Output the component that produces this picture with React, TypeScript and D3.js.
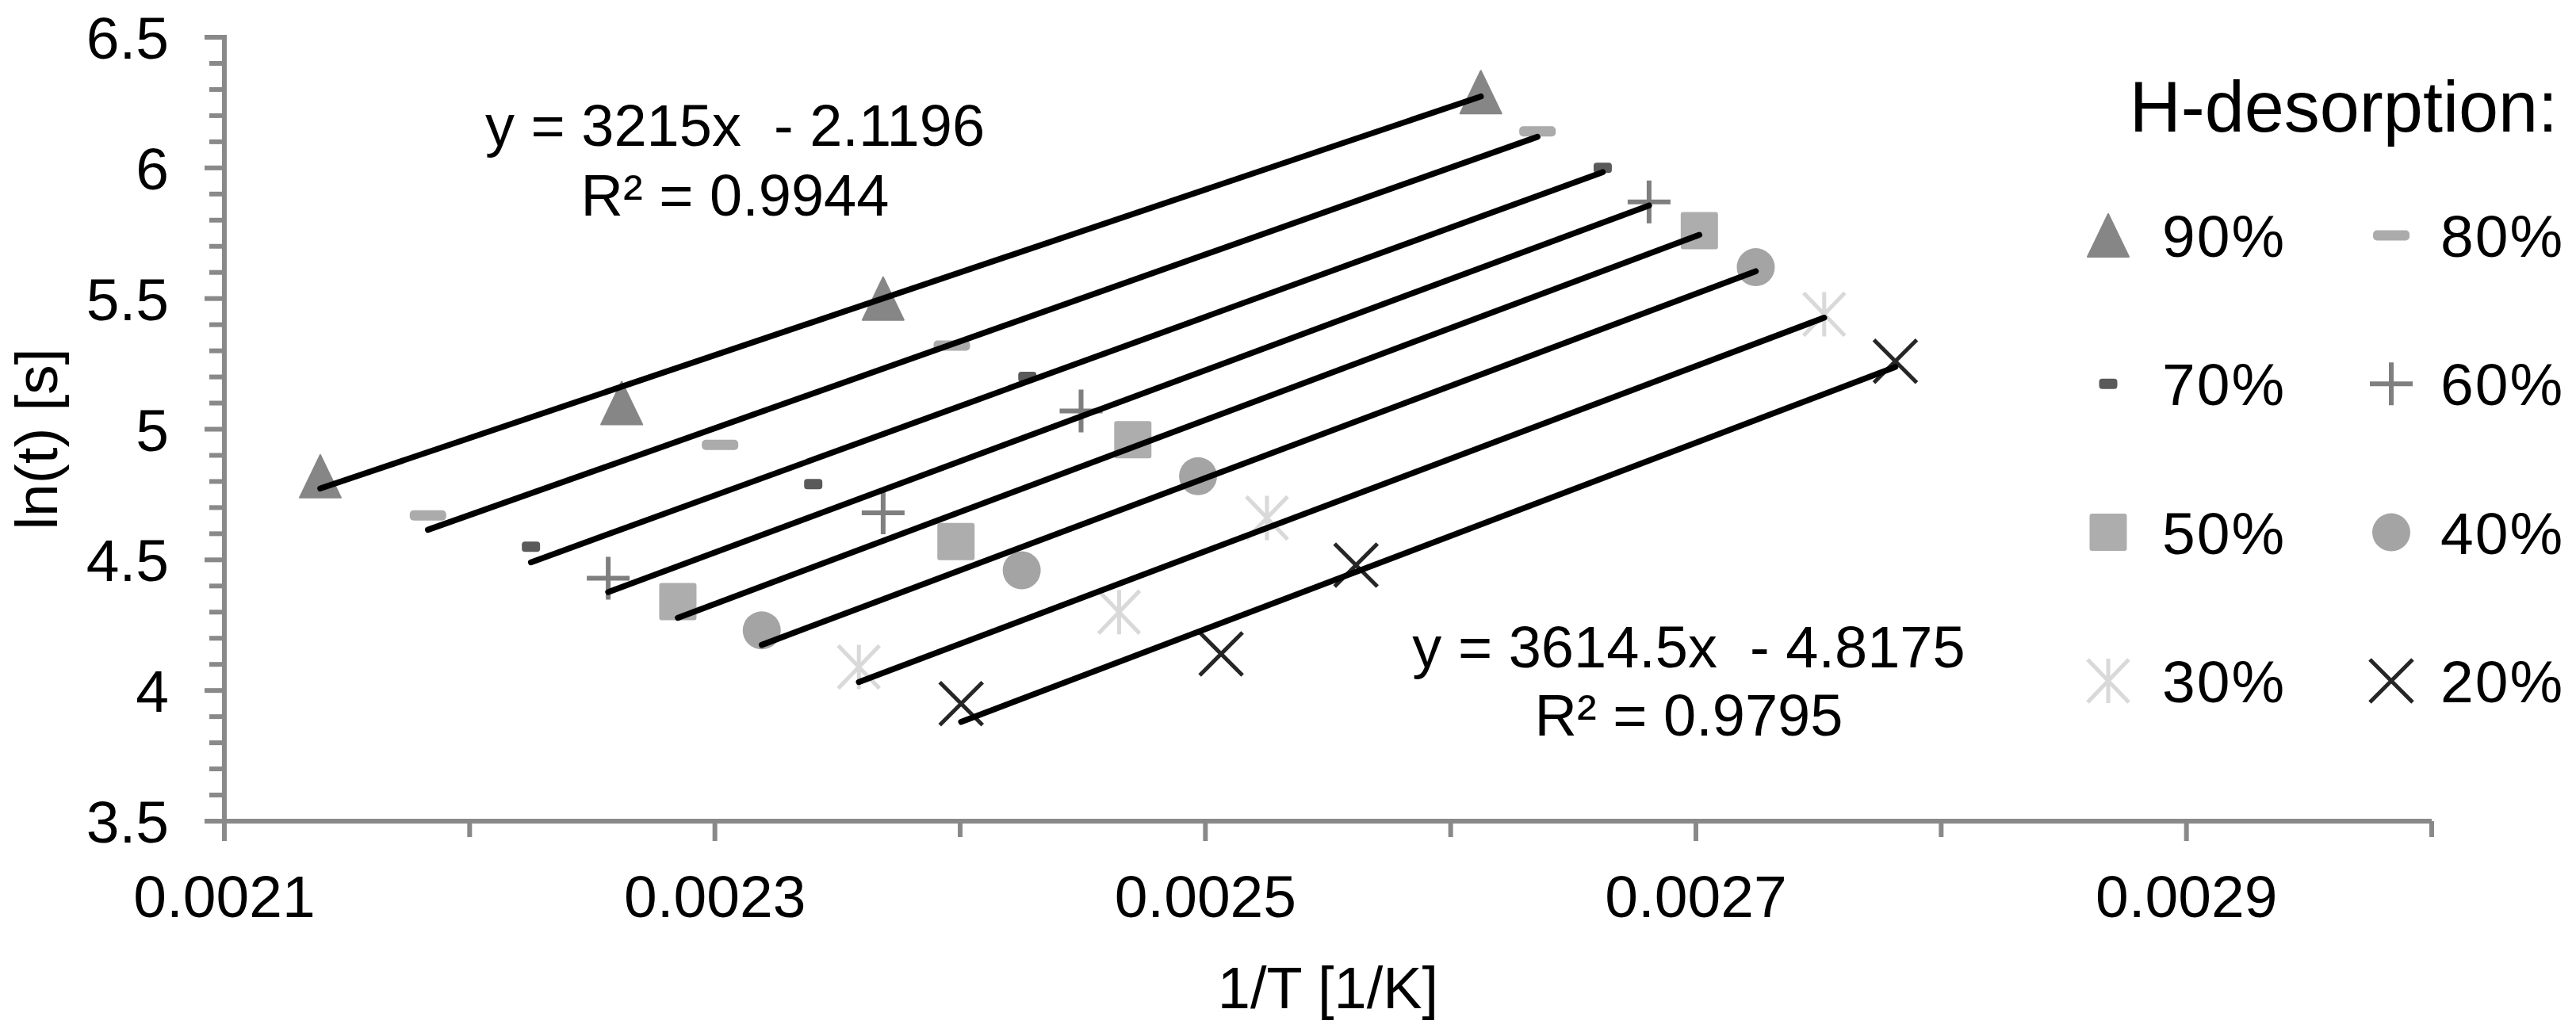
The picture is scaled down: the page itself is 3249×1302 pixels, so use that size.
import * as d3 from "d3";
import React from "react";

// 1/T [1/K] and ln(t) [s] for each H-desorption level
const levels = ["90%", "80%", "70%", "60%", "50%", "40%", "30%", "20%"];

const invT90 = [0.0021391, 0.002262, 0.0023686, 0.0026123];
const lnT90 = [4.82, 5.1, 5.5, 6.29];
const invT80 = [0.002183, 0.0023021, 0.0023966, 0.0026354];
const lnT80 = [4.67, 4.94, 5.32, 6.14];
const invT70 = [0.002225, 0.0023401, 0.0024274, 0.002662];
const lnT70 = [4.55, 4.79, 5.2, 6.0];
const invT60 = [0.0022565, 0.0023686, 0.0024493, 0.0026809];
const lnT60 = [4.43, 4.68, 5.07, 5.87];
const invT50 = [0.0022849, 0.0023983, 0.0024704, 0.0027014];
const lnT50 = [4.34, 4.57, 4.96, 5.76];
const invT40 = [0.0023191, 0.0024251, 0.002497, 0.0027244];
const lnT40 = [4.23, 4.46, 4.82, 5.62];
const invT30 = [0.0023587, 0.0024648, 0.0025251, 0.0027523];
const lnT30 = [4.09, 4.3, 4.66, 5.44];
const invT20 = [0.0024004, 0.0025064, 0.0025614, 0.0027813];
const lnT20 = [3.95, 4.14, 4.48, 5.26];

const xs = [invT90, invT80, invT70, invT60, invT50, invT40, invT30, invT20];
const ys = [lnT90, lnT80, lnT70, lnT60, lnT50, lnT40, lnT30, lnT20];

const xTickLabels = [0.0021, 0.0023, 0.0025, 0.0027, 0.0029];
const yTickLabels = [3.5, 4, 4.5, 5, 5.5, 6, 6.5];

const eqTop = ["y = 3215x  - 2.1196", "R² = 0.9944"];
const eqBottom = ["y = 3614.5x  - 4.8175", "R² = 0.9795"];

const W = 3249;
const H = 1302;
const font = "'Liberation Sans', Arial, sans-serif";
const axisGrey = "#898989";

const x = d3.scaleLinear().domain([0.0021, 0.003]).range([283, 3067]);
const y = d3.scaleLinear().domain([3.5, 6.5]).range([1036, 47]);

const fit = (px: number[], py: number[]) => {
  const mx = d3.mean(px) as number;
  const my = d3.mean(py) as number;
  let sxy = 0, sxx = 0;
  px.forEach((v, i) => { sxy += (v - mx) * (py[i] - my); sxx += (v - mx) * (v - mx) });
  const k = sxy / sxx;
  return { k, b: my - k * mx };
};

// marker glyph, drawn around (0,0)
const Marker = ({ i }: { i: number }) => {
  switch (i) {
    case 0:
      return <path d="M0,-27L26,27L-26,27Z" fill="#868686" stroke="#868686" strokeWidth={2} strokeLinejoin="round" />;
    case 1:
      return <rect x={-23} y={-6.5} width={46} height={13} rx={5} fill="#ababab" />;
    case 2:
      return <rect x={-11.5} y={-6.5} width={23} height={13} rx={4} fill="#5a5a5a" />;
    case 3:
      return <path d="M-27,0H27M0,-27V27" stroke="#7f7f7f" strokeWidth={6} />;
    case 4:
      return <rect x={-23.5} y={-23.5} width={47} height={47} rx={3} fill="#adadad" />;
    case 5:
      return <circle r={24} fill="#a4a4a4" />;
    case 6:
      return <path d="M-26,-27L26,27M-26,27L26,-27M0,-28V28" stroke="#d9d9d9" strokeWidth={5} />;
    default:
      return <path d="M-27,-27L27,27M-27,27L27,-27" stroke="#262626" strokeWidth={5} />;
  }
};

export default function App() {
  const yMinor = d3.range(0, 31).map((d) => 3.5 + d * 0.1);
  const xMinor = d3.range(1, 10).map((d) => 0.0021 + d * 0.0001);

  return (
    <svg width={W} height={H} style={{ position: "absolute", left: 0, top: 0, background: "#fff" }} fontFamily={font}>
      {/* y axis */}
      <line x1={x(0.0021)} x2={x(0.0021)} y1={y(6.5) - 3} y2={y(3.5) + 3} stroke={axisGrey} strokeWidth={6} />
      {yMinor.map((v, i) => {
        const major = i % 5 === 0;
        return <line key={"ym" + i} x1={x(0.0021) - (major ? 25 : 19)} x2={x(0.0021)} y1={y(v)} y2={y(v)} stroke={axisGrey} strokeWidth={6} />;
      })}
      {yTickLabels.map((v) => (
        <text key={"yl" + v} x={213} y={y(v) + 27} fontSize={75} textAnchor="end">{v}</text>
      ))}

      {/* x axis */}
      <line x1={x(0.0021) - 3} x2={x(0.003)} y1={y(3.5)} y2={y(3.5)} stroke={axisGrey} strokeWidth={6} />
      <line x1={x(0.0021)} x2={x(0.0021)} y1={y(3.5)} y2={y(3.5) + 25} stroke={axisGrey} strokeWidth={6} />
      {xMinor.map((v, i) => {
        const major = i % 2 === 1;
        return <line key={"xm" + i} x1={x(v)} x2={x(v)} y1={y(3.5)} y2={y(3.5) + (major ? 25 : 20)} stroke={axisGrey} strokeWidth={6} />;
      })}
      {xTickLabels.map((v) => (
        <text key={"xl" + v} x={x(v)} y={1157} fontSize={75} textAnchor="middle">{d3.format(".4f")(v)}</text>
      ))}

      {/* axis titles */}
      <text x={(x.range()[0] + x.range()[1]) / 2} y={1272} fontSize={74} textAnchor="middle">1/T [1/K]</text>
      <text transform="translate(72,554) rotate(-90)" fontSize={75} textAnchor="middle" style={{ whiteSpace: "pre" }}>ln(t) [s]</text>

      {/* markers */}
      {xs.map((px, s) => (
        <g key={"s" + s}>
          {px.map((v, j) => (
            <g key={j} transform={`translate(${x(v)},${y(ys[s][j])})`}>
              <Marker i={s} />
            </g>
          ))}
        </g>
      ))}

      {/* linear trendlines */}
      {xs.map((px, s) => {
        const { k, b } = fit(px, ys[s]);
        const x0 = d3.min(px) as number;
        const x1 = d3.max(px) as number;
        return <line key={"t" + s} x1={x(x0)} y1={y(k * x0 + b)} x2={x(x1)} y2={y(k * x1 + b)} stroke="#000" strokeWidth={7.5} strokeLinecap="round" />;
      })}

      {/* trendline equations */}
      {eqTop.map((t, i) => (
        <text key={"e1" + i} x={927} y={184 + i * 88} fontSize={74} textAnchor="middle" style={{ whiteSpace: "pre" }}>{t}</text>
      ))}
      {eqBottom.map((t, i) => (
        <text key={"e2" + i} x={2130} y={842 + i * 86} fontSize={74} textAnchor="middle" style={{ whiteSpace: "pre" }}>{t}</text>
      ))}

      {/* legend */}
      <text x={3226} y={166} fontSize={90} textAnchor="end">H-desorption:</text>
      {levels.map((lab, i) => {
        const col = i % 2;
        const row = Math.floor(i / 2);
        const cy = 297 + row * 187.3;
        const mx = col === 0 ? 2659 : 3016;
        const tx = col === 0 ? 2727 : 3078;
        return (
          <g key={"lg" + i}>
            <g transform={`translate(${mx},${cy})`}><Marker i={i} /></g>
            <text x={tx} y={cy + 27} fontSize={75} letterSpacing={2}>{lab}</text>
          </g>
        );
      })}
    </svg>
  );
}
